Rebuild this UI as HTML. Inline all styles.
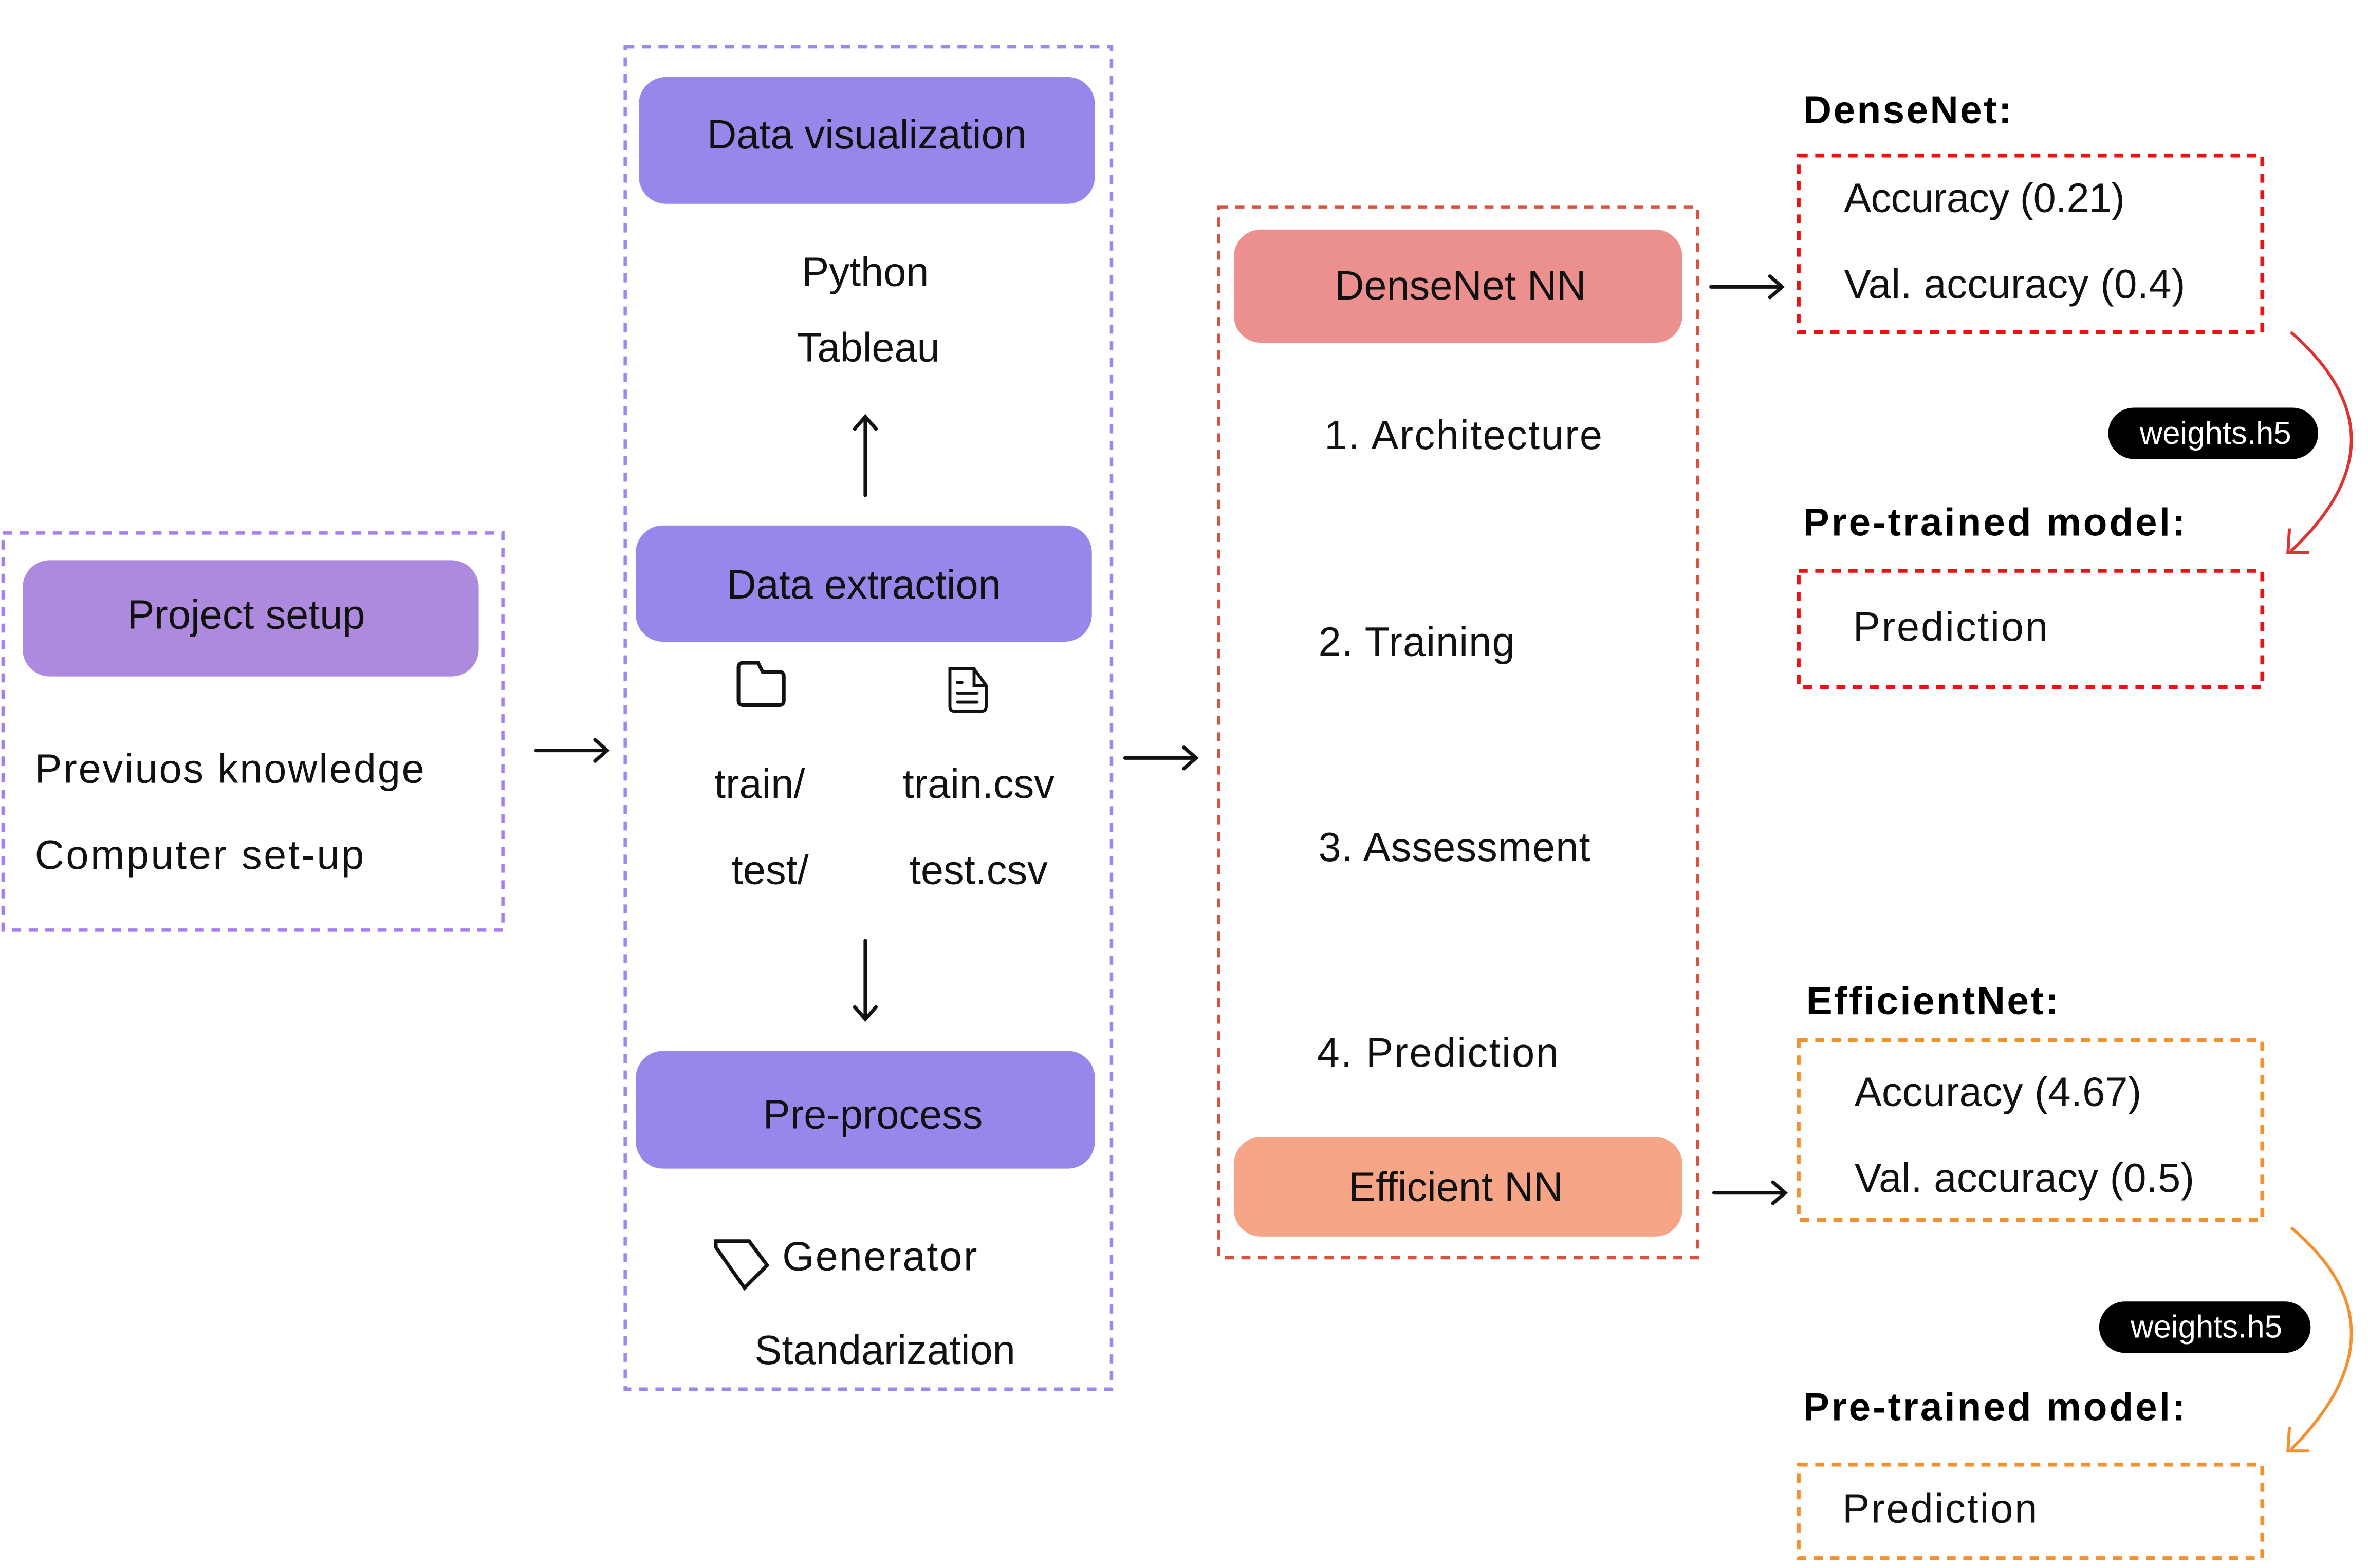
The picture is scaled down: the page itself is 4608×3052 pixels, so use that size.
<!DOCTYPE html>
<html><head><meta charset="utf-8"><style>html,body{margin:0;padding:0;background:#fff}svg{display:block}</style></head>
<body>
<svg width="4608" height="3052" viewBox="0 0 1568 1038.5" preserveAspectRatio="none" xmlns="http://www.w3.org/2000/svg" font-family="Liberation Sans, sans-serif">
<rect width="1568" height="1039" fill="#fff"/>
<g fill="none" stroke-width="2.2" stroke-dasharray="6,5">
<rect x="2" y="353" width="331" height="263" stroke="#a57ef0"/>
<rect x="414" y="31" width="322" height="889" stroke="#9f86ee"/>
<rect x="807" y="137" width="317" height="696" stroke="#d8533f"/>
<rect x="1191" y="103" width="307" height="117" stroke="#ee1111" stroke-width="2.6"/>
<rect x="1191" y="378" width="307" height="77" stroke="#ee1111" stroke-width="2.6"/>
<rect x="1191" y="689" width="307" height="119" stroke="#f5902f" stroke-width="2.6"/>
<rect x="1191" y="970" width="307" height="62" stroke="#f5902f" stroke-width="2.6"/>
</g>
<rect x="15" y="371" width="302" height="77" rx="18" fill="#ae8ade"/>
<rect x="423" y="51" width="302" height="84" rx="18" fill="#9886ea"/>
<rect x="421" y="348" width="302" height="77" rx="18" fill="#9886ea"/>
<rect x="421" y="696" width="304" height="78" rx="18" fill="#9886ea"/>
<rect x="817" y="152" width="297" height="75" rx="18" fill="#ec8f8f"/>
<rect x="817" y="753" width="297" height="66" rx="18" fill="#f6a586"/>
<g font-size="27" fill="#111" dominant-baseline="central">
<text x="163" y="407" text-anchor="middle">Project setup</text>
<text x="23" y="509" textLength="258">Previuos knowledge</text>
<text x="23" y="566" textLength="218">Computer set-up</text>
<text x="574" y="89" text-anchor="middle">Data visualization</text>
<text x="573" y="180" text-anchor="middle">Python</text>
<text x="575" y="230" text-anchor="middle">Tableau</text>
<text x="572" y="387" text-anchor="middle">Data extraction</text>
<text x="503" y="519" text-anchor="middle">train/</text>
<text x="510" y="576" text-anchor="middle">test/</text>
<text x="648" y="519" text-anchor="middle">train.csv</text>
<text x="648" y="576" text-anchor="middle">test.csv</text>
<text x="578" y="738" text-anchor="middle">Pre-process</text>
<text x="518" y="832" textLength="129">Generator</text>
<text x="586" y="894" text-anchor="middle">Standarization</text>
<text x="967" y="189" text-anchor="middle">DenseNet NN</text>
<text x="877" y="288" textLength="184">1. Architecture</text>
<text x="873" y="425" textLength="130">2. Training</text>
<text x="873" y="561" textLength="180">3. Assessment</text>
<text x="872" y="697" textLength="160">4. Prediction</text>
<text x="964" y="786" text-anchor="middle">Efficient NN</text>
<text x="1221" y="131" textLength="186">Accuracy (0.21)</text>
<text x="1221" y="188" textLength="226">Val. accuracy (0.4)</text>
<text x="1227" y="415" textLength="129">Prediction</text>
<text x="1228" y="723" textLength="190">Accuracy (4.67)</text>
<text x="1228" y="780" textLength="225">Val. accuracy (0.5)</text>
<text x="1220" y="999" textLength="129">Prediction</text>
</g>
<g font-size="26" font-weight="bold" fill="#000" dominant-baseline="central">
<text x="1194" y="73" textLength="138">DenseNet:</text>
<text x="1194" y="346" textLength="253">Pre-trained model:</text>
<text x="1196" y="663" textLength="167">EfficientNet:</text>
<text x="1194" y="932" textLength="253">Pre-trained model:</text>
</g>
<rect x="1396" y="270" width="139" height="34" rx="17" fill="#000"/>
<rect x="1390" y="862" width="140" height="34" rx="17" fill="#000"/>
<g font-size="21" fill="#fff" dominant-baseline="central" text-anchor="middle">
<text x="1467" y="287">weights.h5</text>
<text x="1461" y="879">weights.h5</text>
</g>
<g stroke="#111" stroke-width="2.4" fill="none" stroke-linecap="round">
<path d="M355 497H402M394 490L402 497L394 504"/>
<path d="M745 502H792M784 495L792 502L784 509"/>
<path d="M1133 190H1180M1172 183L1180 190L1172 197"/>
<path d="M1135 790H1182M1174 783L1182 790L1174 797"/>
<path d="M573 328V276M566 284L573 276L580 284"/>
<path d="M573 623V675M566 667L573 675L580 667"/>
<path d="M489 464V442Q489 439 492 439H502L505 445H516Q519 445 519 448V464Q519 467 516 467H492Q489 467 489 464Z"/>
<path d="M629 443H645L653 454V468Q653 471 650 471H632Q629 471 629 468Z M645 443V454H653 M634 452H637 M634 459H647 M634 465H647" stroke-width="2"/>
<path d="M474 826V822H496L508 838L493 853Z"/>
</g>
<path d="M1517 220Q1597 290 1517 365" stroke="#dd3333" stroke-width="2" fill="none"/>
<path d="M1516 350L1515 366L1529 366" stroke="#dd3333" stroke-width="2" fill="none"/>
<path d="M1517 813Q1597 880 1517 960" stroke="#f5902f" stroke-width="2" fill="none"/>
<path d="M1516 945L1515 961L1529 961" stroke="#f5902f" stroke-width="2" fill="none"/>
</svg>
</body></html>
